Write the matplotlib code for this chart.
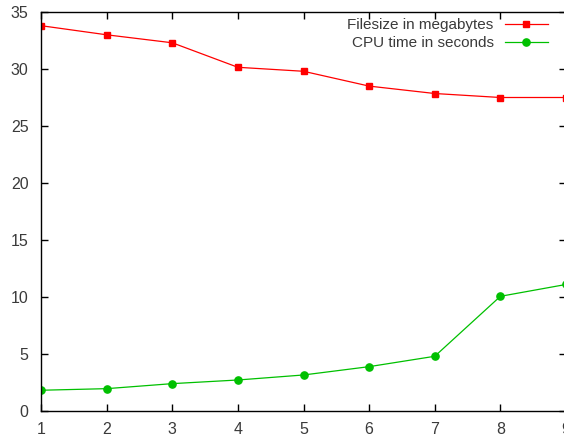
import matplotlib
matplotlib.use("Agg")
import matplotlib.pyplot as plt

x = [1, 2, 3, 4, 5, 6, 7, 8, 9]
filesize = [33.8, 33.0, 32.3, 30.15, 29.8, 28.5, 27.85, 27.5, 27.5]
cputime = [1.82, 1.96, 2.4, 2.72, 3.16, 3.89, 4.8, 10.06, 11.1]
xticks = [1, 2, 3, 4, 5, 6, 7, 8, 9]
yticks = [0, 5, 10, 15, 20, 25, 30, 35]

plt.rcParams['font.family'] = ['Liberation Sans', 'DejaVu Sans']
fig = plt.figure(figsize=(5.64, 4.38), dpi=100)
ax = fig.add_axes([41/564, 27/438, 525/564, 399/438])

ax.plot(x, filesize, color='#ff0000', marker='s', markersize=4.8, lw=0.9,
        label='Filesize in megabytes')
ax.plot(x, cputime, color='#00c000', marker='o', markersize=5.2, lw=0.9,
        label='CPU time in seconds')

ax.set_xlim(1, 9)
ax.set_ylim(0, 35)
ax.set_xticks(xticks)
ax.set_yticks(yticks)
ax.tick_params(direction='in', top=True, right=True, length=5, width=1,
               labelsize=11.5, labelcolor='#3a3a3a')
ax.tick_params(axis='y', pad=9)
ax.tick_params(axis='x', pad=8)
for s in ax.spines.values():
    s.set_linewidth(1)

leg = ax.legend(loc='upper right', frameon=False, markerfirst=False,
                fontsize=11, handlelength=2.8, handletextpad=0.75,
                borderaxespad=0.0, labelspacing=0.25,
                bbox_to_anchor=(0.977, 1.0))
for t in leg.get_texts():
    t.set_color('#3a3a3a')

fig.savefig('out.png', dpi=100)
